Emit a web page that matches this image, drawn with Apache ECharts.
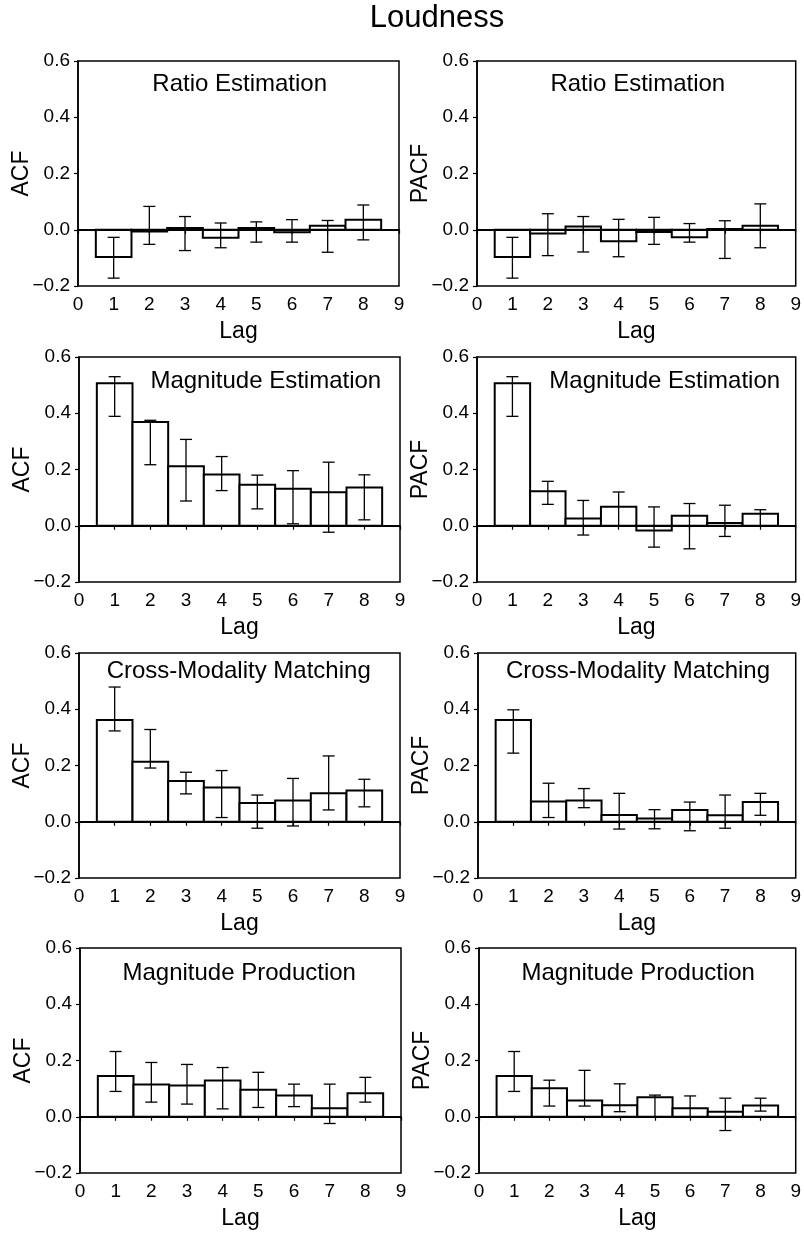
<!DOCTYPE html>
<html>
<head>
<meta charset="utf-8">
<script src="https://cdn.jsdelivr.net/npm/echarts@6/dist/echarts.min.js"></script>
<style>
html,body{margin:0;padding:0;background:#fff;}
#chart{width:804px;height:1235px;}
</style>
</head>
<body>
<div id="chart"></div>
<script>
const mainTitle = 'Loudness';
const lags = [1, 2, 3, 4, 5, 6, 7, 8];
const xTicks = [0, 1, 2, 3, 4, 5, 6, 7, 8, 9];
const yTicks = [-0.2, 0.0, 0.2, 0.4, 0.6];
const panelTitles = ['Ratio Estimation', 'Magnitude Estimation', 'Cross-Modality Matching', 'Magnitude Production'];

// Ratio Estimation
const acfRatio   = [-0.097, -0.006, 0.006, -0.028, 0.006, -0.009, 0.014, 0.036];
const acfRatioLo = [-0.172, -0.052, -0.074, -0.064, -0.044, -0.044, -0.080, -0.036];
const acfRatioHi = [-0.027, 0.083, 0.047, 0.024, 0.028, 0.036, 0.033, 0.088];
const pacfRatio   = [-0.097, -0.013, 0.012, -0.041, -0.008, -0.027, 0.003, 0.014];
const pacfRatioLo = [-0.172, -0.092, -0.079, -0.096, -0.052, -0.044, -0.102, -0.064];
const pacfRatioHi = [-0.027, 0.057, 0.047, 0.037, 0.044, 0.022, 0.032, 0.092];

// Magnitude Estimation
const acfME   = [0.507, 0.369, 0.212, 0.182, 0.146, 0.132, 0.119, 0.136];
const acfMELo = [0.389, 0.217, 0.088, 0.125, 0.060, 0.007, -0.023, 0.021];
const acfMEHi = [0.530, 0.375, 0.307, 0.246, 0.180, 0.196, 0.226, 0.181];
const pacfME   = [0.507, 0.123, 0.026, 0.068, -0.017, 0.036, 0.010, 0.043];
const pacfMELo = [0.389, 0.076, -0.033, 0.000, -0.076, -0.082, -0.038, 0.000];
const pacfMEHi = [0.530, 0.158, 0.090, 0.120, 0.067, 0.079, 0.073, 0.057];

// Cross-Modality Matching
const acfCMM   = [0.362, 0.213, 0.145, 0.122, 0.067, 0.076, 0.101, 0.111];
const acfCMMLo = [0.323, 0.191, 0.099, 0.015, -0.023, -0.015, 0.042, 0.053];
const acfCMMHi = [0.479, 0.328, 0.176, 0.182, 0.095, 0.154, 0.234, 0.151];
const pacfCMM   = [0.362, 0.072, 0.076, 0.024, 0.012, 0.042, 0.023, 0.070];
const pacfCMMLo = [0.244, 0.015, 0.050, -0.026, -0.025, -0.032, -0.023, 0.023];
const pacfCMMHi = [0.398, 0.137, 0.118, 0.101, 0.043, 0.070, 0.095, 0.101];

// Magnitude Production
const acfMP   = [0.145, 0.115, 0.111, 0.129, 0.096, 0.076, 0.030, 0.084];
const acfMPLo = [0.090, 0.052, 0.045, 0.028, 0.033, 0.036, -0.024, 0.052];
const acfMPHi = [0.232, 0.193, 0.186, 0.175, 0.158, 0.116, 0.116, 0.140];
const pacfMP   = [0.145, 0.101, 0.058, 0.041, 0.069, 0.030, 0.018, 0.040];
const pacfMPLo = [0.090, 0.038, 0.038, 0.018, 0.000, 0.000, -0.049, 0.020];
const pacfMPHi = [0.232, 0.130, 0.165, 0.117, 0.077, 0.074, 0.066, 0.066];

const panels = [
  {row: 0, col: 0, name: 'ACF',  v: acfRatio,  lo: acfRatioLo,  hi: acfRatioHi},
  {row: 0, col: 1, name: 'PACF', v: pacfRatio, lo: pacfRatioLo, hi: pacfRatioHi},
  {row: 1, col: 0, name: 'ACF',  v: acfME,     lo: acfMELo,     hi: acfMEHi},
  {row: 1, col: 1, name: 'PACF', v: pacfME,    lo: pacfMELo,    hi: pacfMEHi},
  {row: 2, col: 0, name: 'ACF',  v: acfCMM,    lo: acfCMMLo,    hi: acfCMMHi},
  {row: 2, col: 1, name: 'PACF', v: pacfCMM,   lo: pacfCMMLo,   hi: pacfCMMHi},
  {row: 3, col: 0, name: 'ACF',  v: acfMP,     lo: acfMPLo,     hi: acfMPHi},
  {row: 3, col: 1, name: 'PACF', v: pacfMP,    lo: pacfMPLo,    hi: pacfMPHi}
];

// layout
const FONT = '"Liberation Sans", Arial, Helvetica, sans-serif';
const rowTops = [61, 357, 653, 948];
const plotH = 225;
const plotW = 321;
const colLefts = [[78, 477], [79, 477], [79, 478], [80, 479]];
const titlePos = [
  [[239.7, 84.7], [637.8, 84.7]],
  [[265.8, 381.3], [664.7, 381.3]],
  [[238.7, 671.7], [638.0, 671.7]],
  [[239.2, 973.3], [638.2, 973.3]]
];

function fmtY(v) {
  const r = Math.round(v * 10) / 10;
  return r < 0 ? '\u2212' + Math.abs(r).toFixed(1) : r.toFixed(1);
}

const grids = [], xAxes = [], yAxes = [], series = [], graphics = [];

graphics.push({
  type: 'text', x: 437, y: 18.5,
  style: {text: mainTitle, font: '31px ' + FONT, fill: '#000', textAlign: 'center', textVerticalAlign: 'middle'}
});

panels.forEach((p, i) => {
  grids.push({
    left: colLefts[p.row][p.col], top: rowTops[p.row], width: plotW, height: plotH,
    show: true, borderColor: '#000', borderWidth: 1.5, backgroundColor: 'transparent',
    containLabel: false
  });
  xAxes.push({
    type: 'value', gridIndex: i, min: xTicks[0], max: xTicks[xTicks.length - 1], interval: 1,
    axisLine: {show: true, lineStyle: {color: '#000', width: 1.5}},
    axisTick: {show: true, inside: false, length: 4, lineStyle: {color: '#000', width: 1.2}},
    axisLabel: {color: '#000', fontSize: 19, fontFamily: FONT, margin: 9},
    splitLine: {show: false},
    name: 'Lag', nameLocation: 'middle', nameGap: 34, nameMoveOverlap: false,
    nameTextStyle: {color: '#000', fontSize: 23, fontFamily: FONT}
  });
  yAxes.push({
    type: 'value', gridIndex: i, min: yTicks[0], max: yTicks[yTicks.length - 1], interval: 0.2,
    axisLine: {show: true, lineStyle: {color: '#000', width: 1.5}},
    axisTick: {show: true, inside: false, length: 4, lineStyle: {color: '#000', width: 1.2}},
    axisLabel: {color: '#000', fontSize: 19, fontFamily: FONT, margin: 8, formatter: fmtY},
    splitLine: {show: false},
    name: p.name, nameLocation: 'middle', nameGap: 45, nameRotate: 90, nameMoveOverlap: false,
    nameTextStyle: {color: '#000', fontSize: 23, fontFamily: FONT}
  });
  // bars
  series.push({
    type: 'custom', xAxisIndex: i, yAxisIndex: i, silent: true, z: 2,
    data: lags.map((l, k) => [l, p.v[k]]),
    encode: {x: 0, y: 1},
    renderItem: function (params, api) {
      const x = api.value(0), v = api.value(1);
      const a = api.coord([x - 0.5, v]);
      const b = api.coord([x + 0.5, 0]);
      return {
        type: 'rect',
        shape: {x: a[0], y: Math.min(a[1], b[1]), width: b[0] - a[0], height: Math.abs(b[1] - a[1])},
        style: {fill: '#fff', stroke: '#000', lineWidth: 2}
      };
    }
  });
  // error bars + zero line
  series.push({
    type: 'custom', xAxisIndex: i, yAxisIndex: i, silent: true, z: 3,
    data: lags.map((l, k) => [l, p.lo[k], p.hi[k]]),
    encode: {x: 0, y: [1, 2]},
    renderItem: function (params, api) {
      const x = api.value(0);
      const lo = api.coord([x, api.value(1)]);
      const hi = api.coord([x, api.value(2)]);
      const cap = 6;
      const st = {stroke: '#000', lineWidth: 1.3};
      return {
        type: 'group',
        children: [
          {type: 'line', shape: {x1: lo[0], y1: lo[1], x2: hi[0], y2: hi[1]}, style: st},
          {type: 'line', shape: {x1: lo[0] - cap, y1: lo[1], x2: lo[0] + cap, y2: lo[1]}, style: st},
          {type: 'line', shape: {x1: hi[0] - cap, y1: hi[1], x2: hi[0] + cap, y2: hi[1]}, style: st}
        ]
      };
    },
    markLine: {
      silent: true, symbol: ['none', 'none'], label: {show: false},
      lineStyle: {color: '#000', width: 1.8, type: 'solid'},
      animation: false,
      data: [{yAxis: 0}]
    }
  });
  const tp = titlePos[p.row][p.col];
  graphics.push({
    type: 'text', x: tp[0], y: tp[1], z: 10,
    style: {text: panelTitles[p.row], font: '24px ' + FONT, fill: '#000', textAlign: 'center', textVerticalAlign: 'middle'}
  });
});

const chart = echarts.init(document.getElementById('chart'), null, {renderer: 'canvas'});
chart.setOption({
  backgroundColor: '#fff',
  animation: false,
  grid: grids,
  xAxis: xAxes,
  yAxis: yAxes,
  series: series,
  graphic: graphics
});
</script>
</body>
</html>
